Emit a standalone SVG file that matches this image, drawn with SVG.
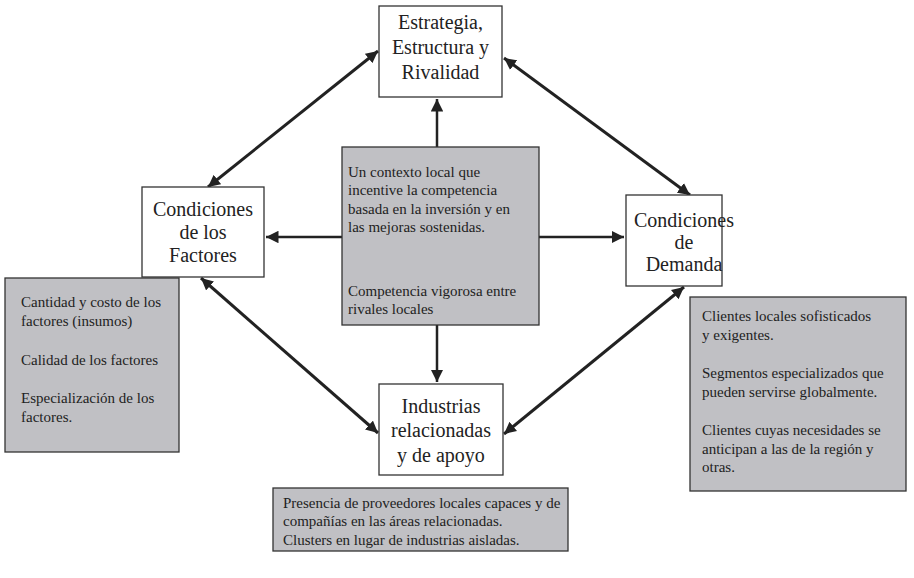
<svg xmlns="http://www.w3.org/2000/svg" width="914" height="578" viewBox="0 0 914 578">
<defs>
<style>
.node{fill:#fff;stroke:#333;stroke-width:1.3}
.gray{fill:#c0c0c4;stroke:#333;stroke-width:1.3}
text{font-family:'Liberation Serif','DejaVu Serif','Noto Serif',Times,serif;fill:#222}
.t{font-size:20px;text-anchor:middle}
.s{font-size:15px}
.c{stroke:#222;fill:none}
.d{stroke-width:3}
.h{stroke-width:2.5}
</style>
<marker id="ah" viewBox="0 0 10 10" refX="10" refY="5" markerWidth="4" markerHeight="4" orient="auto-start-reverse" markerUnits="strokeWidth">
<path d="M0,0 L10,5 L0,10 Z" fill="#222"/>
</marker>
<marker id="ah2" viewBox="0 0 10 10" refX="10" refY="5" markerWidth="5" markerHeight="5" orient="auto-start-reverse" markerUnits="strokeWidth">
<path d="M0,0 L10,5 L0,10 Z" fill="#222"/>
</marker>
</defs>
<rect width="914" height="578" fill="#fff"/>
<g id="connectors">
<line class="c h" x1="437" y1="147" x2="437" y2="99" marker-end="url(#ah2)"/>
<line class="c h" x1="437" y1="325" x2="437" y2="382" marker-end="url(#ah2)"/>
<line class="c h" x1="342" y1="237" x2="266" y2="237" marker-end="url(#ah2)"/>
<line class="c h" x1="539" y1="237" x2="624" y2="237" marker-end="url(#ah2)"/>
<line class="c d" x1="208" y1="187" x2="378" y2="51" marker-start="url(#ah)" marker-end="url(#ah)"/>
<line class="c d" x1="504" y1="58" x2="690" y2="195" marker-start="url(#ah)" marker-end="url(#ah)"/>
<line class="c d" x1="201" y1="278" x2="378" y2="433" marker-start="url(#ah)" marker-end="url(#ah)"/>
<line class="c d" x1="684" y1="287" x2="504" y2="434" marker-start="url(#ah)" marker-end="url(#ah)"/>
</g>
<g id="estrategia" font-family="Liberation Serif, serif">
<rect class="node" x="379" y="6" width="123" height="91"/>
<text class="t" x="440.5" y="29">Estrategia,</text>
<text class="t" x="440.5" y="54">Estructura y</text>
<text class="t" x="440.5" y="79">Rivalidad</text>
</g>
<g id="factores">
<rect class="node" x="142" y="187" width="122" height="90"/>
<text class="t" x="203" y="216">Condiciones</text>
<text class="t" x="203" y="239">de los</text>
<text class="t" x="203" y="262">Factores</text>
</g>
<g id="demanda">
<rect class="node" x="626" y="195" width="96" height="91"/>
<text class="t" x="684" y="227">Condiciones</text>
<text class="t" x="684" y="249">de</text>
<text class="t" x="684" y="271">Demanda</text>
</g>
<g id="industrias">
<rect class="node" x="379" y="384" width="124" height="91"/>
<text class="t" x="441" y="413">Industrias</text>
<text class="t" x="441" y="437">relacionadas</text>
<text class="t" x="441" y="462">y de apoyo</text>
</g>
<g id="contexto">
<rect class="gray" x="342" y="147" width="197" height="178"/>
<text class="s" x="348" y="177">Un contexto local que</text>
<text class="s" x="348" y="195">incentive la competencia</text>
<text class="s" x="348" y="214">basada en la inversión y en</text>
<text class="s" x="348" y="232">las mejoras sostenidas.</text>
<text class="s" x="348" y="296">Competencia vigorosa entre</text>
<text class="s" x="348" y="314">rivales locales</text>
</g>
<g id="factores-detalle">
<rect class="gray" x="5" y="278" width="174" height="174"/>
<text class="s" x="21" y="307">Cantidad y costo de los</text>
<text class="s" x="21" y="326">factores (insumos)</text>
<text class="s" x="21" y="365">Calidad de los factores</text>
<text class="s" x="21" y="403">Especialización de los</text>
<text class="s" x="21" y="422">factores.</text>
</g>
<g id="demanda-detalle">
<rect class="gray" x="690" y="297" width="216" height="194"/>
<text class="s" x="702" y="321">Clientes locales sofisticados</text>
<text class="s" x="702" y="340">y exigentes.</text>
<text class="s" x="702" y="378">Segmentos especializados que</text>
<text class="s" x="702" y="397">pueden servirse globalmente.</text>
<text class="s" x="702" y="435">Clientes cuyas necesidades se</text>
<text class="s" x="702" y="454">anticipan a las de la región y</text>
<text class="s" x="702" y="472">otras.</text>
</g>
<g id="industrias-detalle">
<rect class="gray" x="273" y="488" width="295" height="63"/>
<text class="s" x="283" y="508">Presencia de proveedores locales capaces y de</text>
<text class="s" x="283" y="526">compañías en las áreas relacionadas.</text>
<text class="s" x="283" y="545">Clusters en lugar de industrias aisladas.</text>
</g>
</svg>
